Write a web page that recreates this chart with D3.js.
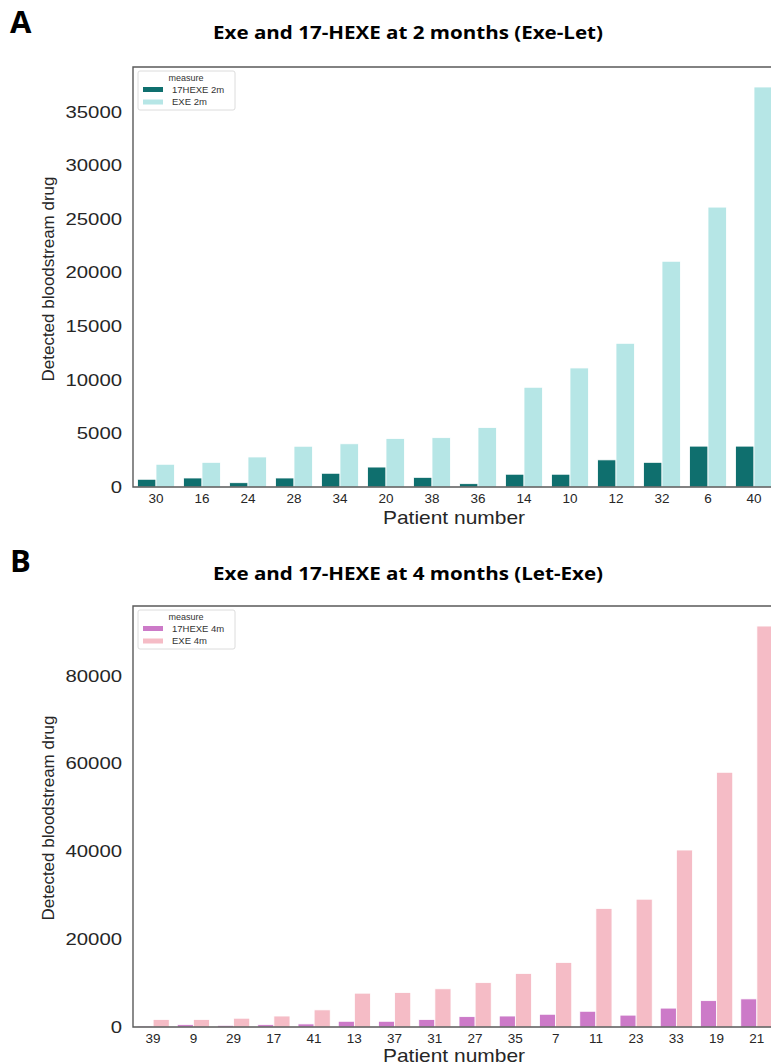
<!DOCTYPE html>
<html>
<head>
<meta charset="utf-8">
<script src="https://cdn.jsdelivr.net/npm/d3@7"></script>
<style>
  html, body { margin: 0; padding: 0; background: #fff; overflow: hidden; }
  svg { display: block; }
</style>
</head>
<body>
<svg id="chart" width="771" height="1063"></svg>
<script>
// =====================================================
// Data
// =====================================================
const patientsA = ["30", "16", "24", "28", "34", "20", "38", "36", "14", "10", "12", "32", "6", "40"];
const hexe2m    = [720, 840, 400, 840, 1280, 1860, 900, 310, 1190, 1190, 2530, 2300, 3810, 3810];
const exe2m     = [2120, 2300, 2800, 3800, 4030, 4520, 4600, 5550, 9300, 11100, 13400, 21050, 26100, 37300];
const yTicksA   = [0, 5000, 10000, 15000, 20000, 25000, 30000, 35000];

const patientsB = ["39", "9", "29", "17", "41", "13", "37", "31", "27", "35", "7", "11", "23", "33", "19", "21"];
const hexe4m    = [230, 530, 380, 530, 700, 1300, 1300, 1700, 2360, 2500, 2900, 3580, 2700, 4300, 6000, 6400];
const exe4m     = [1700, 1700, 2000, 2500, 3900, 7700, 7850, 8700, 10100, 12200, 14700, 27000, 29100, 40300, 58000, 91300];
const yTicksB   = [0, 20000, 40000, 60000, 80000];

const svg = d3.select("#chart");

// =====================================================
// One panel
// =====================================================
function drawPanel(cfg) {
  const { top, bottom, left, right } = cfg.box;

  const x = d3.scaleBand()
    .domain(cfg.categories)
    .range([left, right])
    .padding(0);

  const x1 = d3.scaleBand()
    .domain(cfg.series.map(s => s.name))
    .range([x.step() * 0.1, x.step() * 0.9])
    .padding(0);

  const ymax = d3.max(cfg.series, s => d3.max(s.values)) * 1.05;
  const y = d3.scaleLinear()
    .domain([0, ymax])
    .range([bottom, top]);

  const g = svg.append("g");

  // panel letter + title
  g.append("text")
    .attr("x", 10).attr("y", cfg.letterY)
    .attr("font-family", "'Open Sans', 'DejaVu Sans', sans-serif")
    .attr("font-weight", 700)
    .attr("font-size", 31)
    .text(cfg.letter);

  g.append("text")
    .attr("x", 408).attr("y", cfg.titleY)
    .attr("text-anchor", "middle")
    .attr("font-family", "'Open Sans', 'DejaVu Sans', sans-serif")
    .attr("font-weight", 700)
    .attr("font-size", 17)
    .attr("textLength", 390)
    .attr("lengthAdjust", "spacingAndGlyphs")
    .text(cfg.title);

  // bars
  cfg.series.forEach(s => {
    g.append("g")
      .selectAll("rect")
      .data(s.values)
      .join("rect")
      .attr("x", (d, i) => x(cfg.categories[i]) + x1(s.name))
      .attr("y", d => y(d))
      .attr("width", x1.bandwidth())
      .attr("height", d => y(0) - y(d))
      .attr("fill", s.color)
      .attr("stroke", "#fff")
      .attr("stroke-width", 0.8);
  });

  // axes
  const yAxis = g.append("g")
    .attr("transform", `translate(${left},0)`)
    .call(d3.axisLeft(y).tickValues(cfg.yTicks).tickSize(0).tickPadding(11).tickFormat(d3.format("d")));
  yAxis.select(".domain").remove();
  yAxis.selectAll("text")
    .attr("font-family", "'Liberation Sans', Arial, sans-serif")
    .attr("font-size", 17)
    .attr("fill", "#262626")
    .attr("textLength", d => String(d).length * 11.3) // the picture is a bit wide
    .attr("lengthAdjust", "spacingAndGlyphs");

  const xAxis = g.append("g")
    .attr("transform", `translate(0,${bottom})`)
    .call(d3.axisBottom(x).tickSize(0).tickPadding(6));
  xAxis.select(".domain").remove();
  xAxis.selectAll("text")
    .attr("font-family", "'Liberation Sans', Arial, sans-serif")
    .attr("font-size", 13.5)
    .attr("fill", "#262626");

  // spines (left, top, bottom; right one is cut off by the picture edge)
  g.append("path")
    .attr("d", `M${right},${top}H${left}V${bottom}H${right}`)
    .attr("fill", "none")
    .attr("stroke", "#5a5a5a")
    .attr("stroke-width", 1.4);

  // axis titles
  g.append("text")
    .attr("x", 454).attr("y", cfg.xLabelY)
    .attr("text-anchor", "middle")
    .attr("font-family", "'Liberation Sans', Arial, sans-serif")
    .attr("font-size", 19)
    .attr("fill", "#262626")
    .attr("textLength", 142)
    .attr("lengthAdjust", "spacingAndGlyphs")
    .text("Patient number");

  g.append("text")
    .attr("transform", `translate(54,${cfg.yLabelY}) rotate(-90)`)
    .attr("text-anchor", "middle")
    .attr("font-family", "'Liberation Sans', Arial, sans-serif")
    .attr("font-size", 17)
    .attr("fill", "#262626")
    .text("Detected bloodstream drug");

  // legend
  const lg = g.append("g").attr("transform", `translate(${left + 5},${top + 4})`);
  lg.append("rect")
    .attr("width", 97).attr("height", 39).attr("rx", 2)
    .attr("fill", "#fff")
    .attr("stroke", "#dcdcdc")
    .attr("stroke-width", 1);
  lg.append("text")
    .attr("x", 48).attr("y", 9.5)
    .attr("text-anchor", "middle")
    .attr("font-family", "'Liberation Sans', Arial, sans-serif")
    .attr("font-size", 9)
    .attr("fill", "#333")
    .text("measure");
  cfg.series.forEach((s, i) => {
    lg.append("rect")
      .attr("x", 5).attr("y", 16 + i * 12.5)
      .attr("width", 20).attr("height", 5)
      .attr("fill", s.color);
    lg.append("text")
      .attr("x", 34).attr("y", 21.5 + i * 12.5)
      .attr("font-family", "'Liberation Sans', Arial, sans-serif")
      .attr("font-size", 9.5)
      .attr("fill", "#333")
      .text(s.name);
  });
}

drawPanel({
  letter: "A", letterY: 33,
  title: "Exe and 17-HEXE at 2 months (Exe-Let)", titleY: 39,
  box: { top: 67, bottom: 487, left: 133, right: 777 },
  categories: patientsA,
  series: [
    { name: "17HEXE 2m", values: hexe2m, color: "#0f6f6e" },
    { name: "EXE 2m",    values: exe2m,  color: "#b6e6e6" }
  ],
  yTicks: yTicksA,
  xLabelY: 524, yLabelY: 279
});

drawPanel({
  letter: "B", letterY: 572,
  title: "Exe and 17-HEXE at 4 months (Let-Exe)", titleY: 580,
  box: { top: 606, bottom: 1027, left: 133, right: 777 },
  categories: patientsB,
  series: [
    { name: "17HEXE 4m", values: hexe4m, color: "#cc7ac8" },
    { name: "EXE 4m",    values: exe4m,  color: "#f5bcc6" }
  ],
  yTicks: yTicksB,
  xLabelY: 1062, yLabelY: 818
});
</script>
</body>
</html>
